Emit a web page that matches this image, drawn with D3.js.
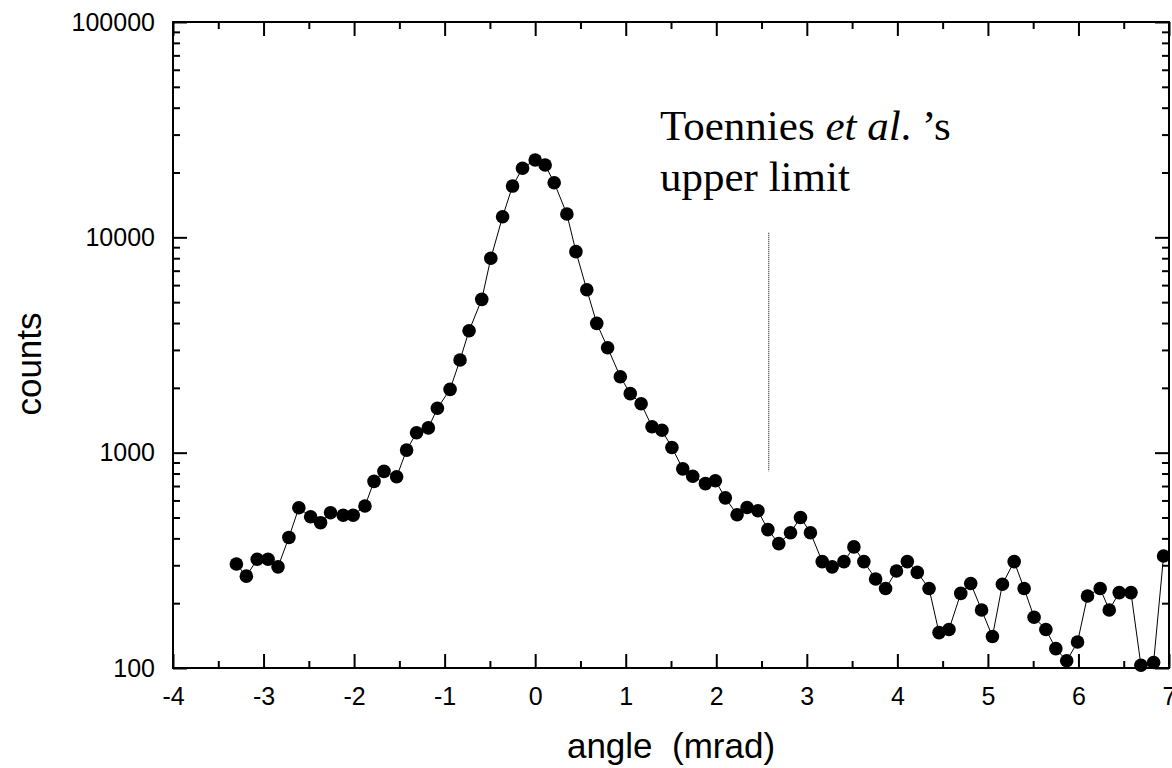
<!DOCTYPE html>
<html>
<head>
<meta charset="utf-8">
<script src="https://cdn.jsdelivr.net/npm/d3@7"></script>
<style>
  html, body { margin: 0; padding: 0; background: #fff; }
  svg { display: block; }
  .tick text { font-family: "Liberation Sans", Arial, sans-serif; fill: #000; }
</style>
</head>
<body>
<div id="chart"></div>
<script>
// angle (mrad) of each measured point
const angles = [
    -3.30, -3.19, -3.07, -2.95, -2.84, -2.72, -2.61, -2.48, -2.37, -2.26,
    -2.12, -2.01, -1.88, -1.78, -1.67, -1.53, -1.42, -1.31, -1.18, -1.08,
    -0.94, -0.83, -0.73, -0.59, -0.49, -0.36, -0.25, -0.14, 0.00, 0.11,
    0.21, 0.35, 0.45, 0.57, 0.68, 0.80, 0.94, 1.05, 1.17, 1.29,
    1.40, 1.51, 1.63, 1.74, 1.88, 1.99, 2.10, 2.23, 2.34, 2.46,
    2.57, 2.69, 2.82, 2.93, 3.04, 3.17, 3.28, 3.41, 3.52, 3.63,
    3.76, 3.87, 3.99, 4.11, 4.22, 4.35, 4.46, 4.57, 4.70, 4.81,
    4.93, 5.05, 5.16, 5.29, 5.40, 5.51, 5.64, 5.75, 5.87, 5.99,
    6.10, 6.24, 6.34, 6.45, 6.58, 6.69, 6.83, 6.94
];

const counts = [
    304, 267, 320, 320, 295, 404, 555, 504, 473, 526,
    512, 512, 565, 736, 819, 773, 1028, 1238, 1303, 1607,
    1968, 2694, 3684, 5152, 7993, 12470, 17300, 20930, 22870, 21670,
    17930, 12830, 8580, 5710, 3986, 3070, 2253, 1880, 1688, 1320,
    1270, 1057, 841, 777, 718, 741, 617, 515, 556, 537,
    439, 378, 425, 500, 425, 312, 295, 312, 365, 312,
    259, 234, 282, 312, 278, 234, 146, 151, 222, 247,
    186, 140, 245, 312, 234, 172, 151, 123, 108, 132,
    216, 234, 186, 224, 224, 103, 106, 331
];

const xTicks = [-4, -3, -2, -1, 0, 1, 2, 3, 4, 5, 6, 7];
const xMinorTicks = [-3.5, -2.5, -1.5, -0.5, 0.5, 1.5, 2.5, 3.5, 4.5, 5.5, 6.5];
const yTicks = [100, 1000, 10000, 100000];

// Toennies et al. upper limit marker
const limitAngle = 2.58;
const limitRange = [820, 10500];

const data = angles.map((a, i) => ({ angle: a, counts: counts[i] }));

const W = 1172, H = 768;
const margin = { top: 22, right: 3, bottom: 100, left: 173 };
const width = W - margin.left - margin.right;
const height = H - margin.top - margin.bottom;

const svg = d3.select('#chart')
    .append('svg')
    .attr('width', W)
    .attr('height', H);

const g = svg.append('g')
    .attr('transform', `translate(${margin.left},${margin.top})`);

const x = d3.scaleLinear().domain([-4, 7]).range([0, width]);
const y = d3.scaleLog().domain([100, 100000]).range([height, 0]);

const yMinorTicks = [];
[100, 1000, 10000].forEach(d => {
    for (let k = 2; k <= 9; k++) yMinorTicks.push(d * k);
});

g.append('clipPath')
    .attr('id', 'plot-clip')
    .append('rect')
    .attr('x', 0)
    .attr('y', 0)
    .attr('width', width)
    .attr('height', height + 8);

const plot = g.append('g').attr('clip-path', 'url(#plot-clip)');

const line = d3.line()
    .x(d => x(d.angle))
    .y(d => y(d.counts));

plot.append('path')
    .datum(data)
    .attr('fill', 'none')
    .attr('stroke', '#000')
    .attr('stroke-width', 1)
    .attr('d', line);

plot.selectAll('circle.pt')
    .data(data)
    .join('circle')
    .attr('class', 'pt')
    .attr('cx', d => x(d.angle))
    .attr('cy', d => y(d.counts))
    .attr('r', 6.8)
    .attr('fill', '#000');

// dotted marker line
g.append('line')
    .attr('x1', x(limitAngle))
    .attr('x2', x(limitAngle))
    .attr('y1', y(limitRange[1]))
    .attr('y2', y(limitRange[0]))
    .attr('stroke', '#000')
    .attr('stroke-width', 1)
    .attr('stroke-dasharray', '1,1');

const styleAxis = sel => {
    sel.select('.domain').remove();
    sel.selectAll('.tick line').attr('stroke', '#000').attr('stroke-width', 2);
};

const plain = d => String(d);

// bottom axis
g.append('g')
    .attr('transform', `translate(0,${height})`)
    .call(d3.axisBottom(x).tickValues(xTicks).tickSize(-14).tickPadding(19)
        .tickFormat(plain))
    .call(styleAxis)
    .call(a => a.selectAll('text').style('font-size', '25px'));

g.append('g')
    .attr('transform', `translate(0,${height})`)
    .call(d3.axisBottom(x).tickValues(xMinorTicks).tickSize(-7).tickFormat(''))
    .call(styleAxis);

// top axis
g.append('g')
    .call(d3.axisTop(x).tickValues(xTicks).tickSize(-14).tickFormat(''))
    .call(styleAxis);

g.append('g')
    .call(d3.axisTop(x).tickValues(xMinorTicks).tickSize(-7).tickFormat(''))
    .call(styleAxis);

// left axis
g.append('g')
    .call(d3.axisLeft(y).tickValues(yTicks).tickSize(-14).tickPadding(18)
        .tickFormat(plain))
    .call(styleAxis)
    .call(a => a.selectAll('text').style('font-size', '25px'));

g.append('g')
    .call(d3.axisLeft(y).tickValues(yMinorTicks).tickSize(-7).tickFormat(''))
    .call(styleAxis);

// right axis
g.append('g')
    .attr('transform', `translate(${width},0)`)
    .call(d3.axisRight(y).tickValues(yTicks).tickSize(-14).tickFormat(''))
    .call(styleAxis);

g.append('g')
    .attr('transform', `translate(${width},0)`)
    .call(d3.axisRight(y).tickValues(yMinorTicks).tickSize(-7).tickFormat(''))
    .call(styleAxis);

// frame
g.append('rect')
    .attr('x', 0)
    .attr('y', 0)
    .attr('width', width)
    .attr('height', height)
    .attr('fill', 'none')
    .attr('stroke', '#000')
    .attr('stroke-width', 2);

// axis titles
svg.append('text')
    .attr('x', margin.left + width / 2)
    .attr('y', 758)
    .attr('text-anchor', 'middle')
    .style('font-family', '"Liberation Sans", Arial, sans-serif')
    .style('font-size', '35px')
    .attr('xml:space', 'preserve')
    .text('angle  (mrad)');

svg.append('text')
    .attr('transform', `translate(41,${364}) rotate(-90)`)
    .attr('text-anchor', 'middle')
    .style('font-family', '"Liberation Sans", Arial, sans-serif')
    .style('font-size', '35px')
    .text('counts');

// annotation
const note = svg.append('text')
    .attr('x', 660)
    .attr('y', 140)
    .style('font-family', '"Liberation Serif", "Times New Roman", serif')
    .style('font-size', '43px');

note.append('tspan').text('Toennies ');
note.append('tspan').style('font-style', 'italic').text('et al');
note.append('tspan').text('. \u2019s');

svg.append('text')
    .attr('x', 660)
    .attr('y', 191)
    .style('font-family', '"Liberation Serif", "Times New Roman", serif')
    .style('font-size', '43px')
    .text('upper limit');
</script>
</body>
</html>
